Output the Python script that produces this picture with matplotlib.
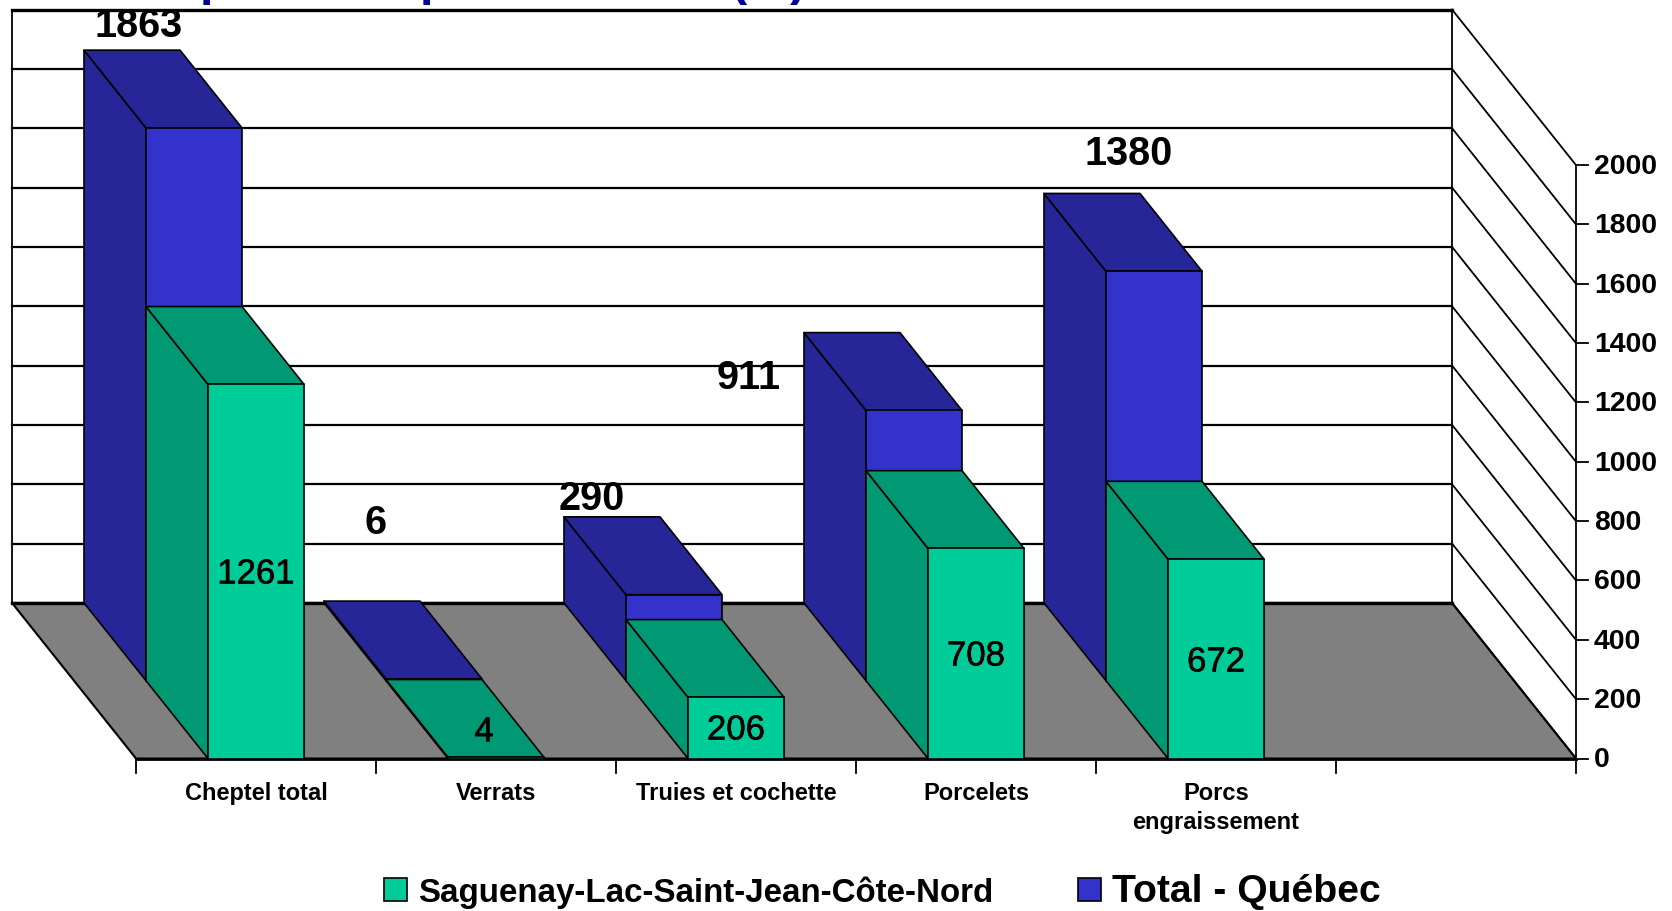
import matplotlib
matplotlib.use('Agg')
import matplotlib.pyplot as plt
import matplotlib.patheffects as pe
from matplotlib.patches import Polygon

plt.rcParams['font.family'] = ['Liberation Sans', 'DejaVu Sans']

# data
categories = ['Cheptel total', 'Verrats', 'Truies et cochette', 'Porcelets', 'Porcs\nengraissement', '']
saguenay = [1261, 4, 206, 708, 672]
quebec = [1863, 6, 290, 911, 1380]
y_ticks = [0, 200, 400, 600, 800, 1000, 1200, 1400, 1600, 1800, 2000]

label_sag = 'Saguenay-Lac-Saint-Jean-Côte-Nord'
label_qc = 'Total - Québec'

# couleurs
vert = '#00CC99'
vert_f = '#009973'
bleu = '#3333CC'
bleu_f = '#262699'
gris = '#808080'
titre_c = '#000099'

W, H = 1672, 912
fig = plt.figure(figsize=(W / 100, H / 100), dpi=100)
ax = fig.add_axes([0, 0, 1, 1])
ax.set_xlim(0, W)
ax.set_ylim(H, 0)
ax.axis('off')

# repere 3d : coin avant gauche, largeur d'une categorie, profondeur
x0, y0 = 136, 759.5
cat_w = 240
dep_x, dep_y = -124, -155.6
ech = 593.4 / 2000


def pt(cat, val, prof):
    # cat en unites de categorie, val en unites du graphe, prof de 0 (avant) a 1 (fond)
    return (x0 + cat * cat_w + prof * dep_x, y0 - val * ech + prof * dep_y)


# le titre est coupe en haut de l'image, seuls les bas de lettres restent visibles
for x, s in [(199.5, 'p'), (419.5, 'p'), (731, '('), (790, ')')]:
    ax.text(x, -5, s, fontsize=35, fontweight='bold', color=titre_c, ha='left', va='baseline')

# sol et murs
n = len(categories)
ax.add_patch(Polygon([pt(0, 0, 0), pt(n, 0, 0), pt(n, 0, 1), pt(0, 0, 1)], fc=gris, ec='black', lw=1.5, zorder=1))
for t in y_ticks:
    lw = 2.4 if t in (0, 2000) else 1.6
    ax.plot(*zip(pt(0, t, 1), pt(n, t, 1)), color='black', lw=lw, zorder=2)
    ax.plot(*zip(pt(n, t, 1), pt(n, t, 0)), color='black', lw=1.3, zorder=2)
    ax.plot(*zip(pt(n, t, 0), (pt(n, t, 0)[0] + 12, pt(n, t, 0)[1])), color='black', lw=1.3, zorder=2)
    ax.text(pt(n, t, 0)[0] + 18, pt(n, t, 0)[1] + 1, str(t), fontsize=20.4, fontweight='bold', va='center', ha='left')
ax.plot(*zip(pt(0, 0, 1), pt(0, 2000, 1)), color='black', lw=1.3, zorder=2)
ax.plot(*zip(pt(n, 0, 1), pt(n, 2000, 1)), color='black', lw=1.3, zorder=2)
ax.plot(*zip(pt(n, 0, 0), pt(n, 2000, 0)), color='black', lw=1.3, zorder=2)

# axe x
ax.plot(*zip(pt(0, 0, 0), pt(n, 0, 0)), color='black', lw=2, zorder=2)
for i in range(n + 1):
    ax.plot([x0 + i * cat_w] * 2, [y0, y0 + 15], color='black', lw=1.3, zorder=2)
for i, c in enumerate(categories):
    ax.text(x0 + (i + 0.5) * cat_w, y0 + 23, c, fontsize=17, fontweight='bold', ha='center', va='top', linespacing=1.33)


def barre(i, val, p1, p2, face, cote, z):
    g = i + 0.3
    d = i + 0.7
    style = dict(ec='black', lw=1.2, zorder=z, joinstyle='round')
    ax.add_patch(Polygon([pt(g, 0, p2), pt(g, 0, p1), pt(g, val, p1), pt(g, val, p2)], fc=cote, **style))
    ax.add_patch(Polygon([pt(g, val, p1), pt(d, val, p1), pt(d, val, p2), pt(g, val, p2)], fc=cote, **style))
    ax.add_patch(Polygon([pt(g, 0, p1), pt(d, 0, p1), pt(d, val, p1), pt(g, val, p1)], fc=face, **style))


for i in range(len(quebec)):
    z = 3 + i * 2
    barre(i, quebec[i], 0.5, 1, bleu, bleu_f, z)
    barre(i, saguenay[i], 0, 0.5, vert, vert_f, z + 1)

# etiquettes de valeurs (position propre a chaque barre)
pos_qc = [(139, 26), (375, 523), (592, 499), (749, 378), (1129, 154)]
pos_sag = [(256, 575), (484, 733), (736, 731), (976, 657), (1216, 663)]
for v, (x, y) in zip(quebec, pos_qc):
    ax.text(x, y, str(v), fontsize=28.5, fontweight='bold', ha='center', va='center', zorder=20)
for v, (x, y) in zip(saguenay, pos_sag):
    ax.text(x, y, str(v), fontsize=25, ha='center', va='center', zorder=20,
            path_effects=[pe.withStroke(linewidth=0.4, foreground='black')])

# legende
ax.add_patch(Polygon([(384, 879), (407, 879), (407, 902), (384, 902)], fc=vert, ec='black', lw=1.2))
ax.text(418, 893, label_sag, fontsize=23.9, fontweight='bold', va='center', ha='left')
ax.add_patch(Polygon([(1078, 879), (1101, 879), (1101, 902), (1078, 902)], fc=bleu, ec='black', lw=1.2))
ax.text(1112, 892, label_qc, fontsize=28.2, fontweight='bold', va='center', ha='left')

fig.savefig('out.png', dpi=100)
